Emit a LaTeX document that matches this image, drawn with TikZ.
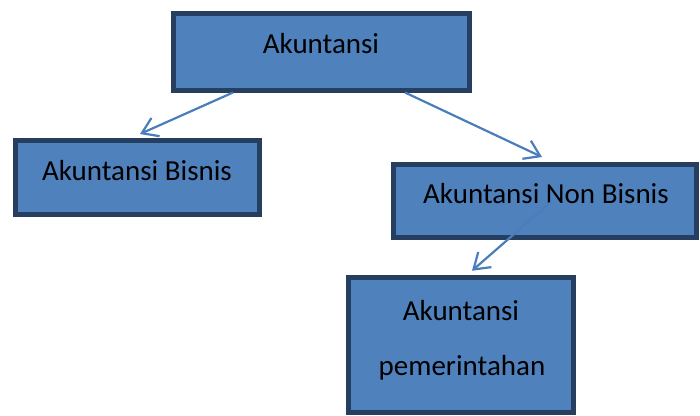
\documentclass[tikz,border=0pt]{standalone}
\usepackage{fontspec}
\setmainfont{Carlito}
\usetikzlibrary{arrows.meta}
\definecolor{boxfill}{HTML}{4F81BD}
\definecolor{boxline}{HTML}{263F60}
\definecolor{arrcol}{HTML}{4A7EBB}
\tikzset{
  box/.style={draw=boxline, fill=boxfill, line width=5pt, rectangle, inner sep=0pt},
  lbl/.style={anchor=base, font=\fontsize{29}{34}\selectfont, text=black, inner sep=0pt},
  arr/.style={draw=arrcol, line width=2.2pt, -{Straight Barb[length=15pt,width=20pt,line width=2.2pt]}}
}
\begin{document}
\begin{tikzpicture}[x=1pt,y=-1pt]
\useasboundingbox (0,0) rectangle (700,415);
\node[box, minimum width=296pt, minimum height=77pt] (A) at (321,51.5) {};
\node[box, minimum width=244pt, minimum height=74pt] (B) at (137,177) {};
\node[box, minimum width=303.5pt, minimum height=73.5pt] (C) at (545,200.75) {};
\node[box, minimum width=225.5pt, minimum height=135.5pt] (D) at (461,345) {};
\node[lbl] (tA) at (321,53) {Akuntansi};
\node[lbl] (tB) at (137,180) {Akuntansi Bisnis};
\node[lbl] (tC) at (546,203) {Akuntansi Non Bisnis};
\node[lbl] (tD1) at (461,320) {Akuntansi};
\node[lbl] (tD2) at (462,375) {pemerintahan};
\draw[arr] ([xshift=-88pt]A.south) -- ([xshift=3pt,yshift=3.5pt]B.north);
\draw[arr] ([xshift=84pt]A.south) -- ([xshift=-3pt,yshift=4.5pt]C.north);
\draw[arr] ([xshift=5pt,yshift=-2pt]C.center) -- ([xshift=11pt,yshift=4pt]D.north);
\end{tikzpicture}
\end{document}
